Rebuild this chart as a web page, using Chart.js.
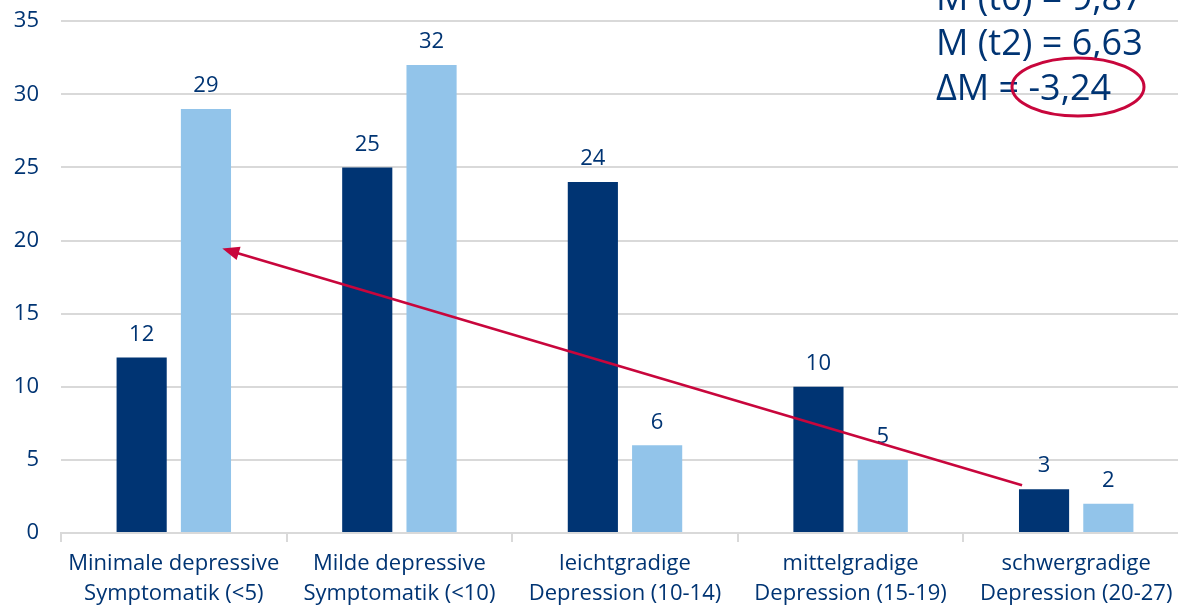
<!DOCTYPE html>
<html>
<head>
<meta charset="utf-8">
<script src="https://cdn.jsdelivr.net/npm/chart.js@4/dist/chart.umd.min.js"></script>
<style>
  html, body { margin: 0; padding: 0; background: #fff; overflow: hidden; }
  #wrap { width: 1190px; height: 623px; margin-top: -14px; }
</style>
</head>
<body>
<div id="wrap"><canvas id="chart" width="1190" height="623"></canvas></div>
<script>
const categories = [
  ["Minimale depressive", "Symptomatik (<5)"],
  ["Milde depressive", "Symptomatik (<10)"],
  ["leichtgradige", "Depression (10-14)"],
  ["mittelgradige", "Depression (15-19)"],
  ["schwergradige", "Depression (20-27)"],
];
const t0Values = [12, 25, 24, 10, 3];
const t2Values = [29, 32, 6, 5, 2];
const statLines = ["M (t0) = 9,87", "M (t2) = 6,63", "ΔM = -3,24"];

const navy = "#003473";
const lightBlue = "#92C4EA";
const crimson = "#C8063C";
const fontFamily = "'Open Sans', sans-serif";
const shift = 14; // canvas is moved up by this much

const valueLabels = {
  id: "valueLabels",
  afterDatasetsDraw(chart) {
    const ctx = chart.ctx;
    ctx.save();
    ctx.fillStyle = navy;
    ctx.font = `22px ${fontFamily}`;
    ctx.textAlign = "center";
    ctx.textBaseline = "bottom";
    chart.data.datasets.forEach((ds, i) => {
      chart.getDatasetMeta(i).data.forEach((bar, j) => {
        ctx.fillText(ds.data[j], bar.x, bar.y - 12);
      });
    });
    ctx.restore();
  },
};

const annotations = {
  id: "annotations",
  afterDatasetsDraw(chart) {
    const ctx = chart.ctx;
    const x = chart.scales.x;
    const y = chart.scales.y;
    const cw = x.getPixelForValue(1) - x.getPixelForValue(0);

    // arrow from the last group back to the first
    const x1 = x.getPixelForValue(4) - cw * 0.24, y1 = y.getPixelForValue(3.27);
    const x2 = x.getPixelForValue(0) + cw * 0.215, y2 = y.getPixelForValue(19.45);
    const ang = Math.atan2(y2 - y1, x2 - x1);
    const head = 17;
    ctx.save();
    ctx.strokeStyle = crimson;
    ctx.fillStyle = crimson;
    ctx.lineWidth = 2.5;
    ctx.beginPath();
    ctx.moveTo(x1, y1);
    ctx.lineTo(x2 - Math.cos(ang) * head * 0.8, y2 - Math.sin(ang) * head * 0.8);
    ctx.stroke();
    ctx.beginPath();
    ctx.moveTo(x2, y2);
    ctx.lineTo(x2 - head * Math.cos(ang) + 7 * Math.sin(ang), y2 - head * Math.sin(ang) - 7 * Math.cos(ang));
    ctx.lineTo(x2 - head * Math.cos(ang) - 7 * Math.sin(ang), y2 - head * Math.sin(ang) + 7 * Math.cos(ang));
    ctx.closePath();
    ctx.fill();

    // mean values text
    ctx.fillStyle = navy;
    ctx.font = `36px ${fontFamily}`;
    ctx.textAlign = "left";
    ctx.textBaseline = "alphabetic";
    statLines.forEach((s, i) => ctx.fillText(s, 936, shift + 10 + i * 45));

    // ellipse around the difference
    ctx.strokeStyle = crimson;
    ctx.lineWidth = 3;
    ctx.beginPath();
    ctx.ellipse(1078, shift + 87, 66, 29, 0, 0, Math.PI * 2);
    ctx.stroke();
    ctx.restore();
  },
};

new Chart(document.getElementById("chart"), {
  type: "bar",
  data: {
    labels: categories,
    datasets: [
      {
        label: "t0",
        data: t0Values,
        backgroundColor: navy,
        categoryPercentage: 0.57,
        barPercentage: 0.78,
      },
      {
        label: "t2",
        data: t2Values,
        backgroundColor: lightBlue,
        categoryPercentage: 0.57,
        barPercentage: 0.78,
      },
    ],
  },
  options: {
    responsive: false,
    animation: false,
    layout: { padding: { top: 0, right: 1, left: 0, bottom: 0 } },
    plugins: {
      legend: { display: false },
      tooltip: { enabled: false },
    },
    scales: {
      x: {
        afterFit(scale) { scale.height = 76; },
        grid: {
          offset: true,
          drawOnChartArea: false,
          color: "#d9d9d9",
          lineWidth: 2,
          tickLength: 9,
        },
        border: { color: "#d9d9d9", width: 2 },
        ticks: {
          color: navy,
          font: { family: fontFamily, size: 22, lineHeight: 1.35 },
          padding: 7,
          maxRotation: 0,
          autoSkip: false,
        },
      },
      y: {
        min: 0,
        max: 35,
        afterFit(scale) { scale.width = 61; },
        grid: { color: "#d9d9d9", lineWidth: 2, drawTicks: false },
        border: { display: false },
        ticks: {
          stepSize: 5,
          color: navy,
          font: { family: fontFamily, size: 22 },
          padding: 22,
        },
      },
    },
  },
  plugins: [valueLabels, annotations],
});
</script>
</body>
</html>
